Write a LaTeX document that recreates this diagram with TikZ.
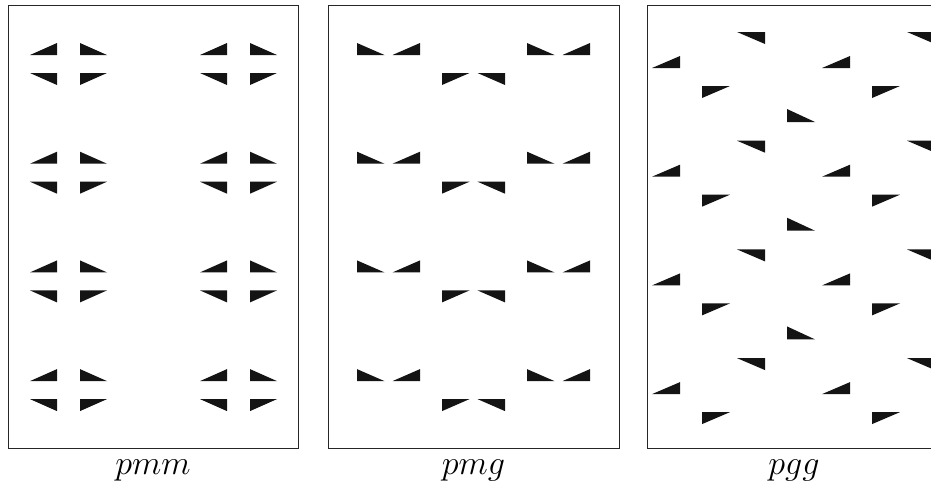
\documentclass[tikz,border=0pt]{standalone}
\begin{document}
\begin{tikzpicture}[x=1pt,y=-1pt,
  frame/.style={draw=black!85,line width=0.9pt},
  tri/.style={fill=black!92,draw=none},
  lbl/.style={anchor=base,inner sep=0pt,font=\fontsize{24.88}{30}\selectfont}]
\clip (0,0) rectangle (931,485);
\useasboundingbox (0,0) rectangle (931,485);
% frames
\draw[frame] (8,5) rectangle (298,448);
\draw[frame] (328,5) rectangle (619,448);
\draw[frame] (647,5) rectangle (937,448);
% pmm
\foreach \cx in {68.5,238.5}{
  \foreach \k in {0,1,2,3}{
    \begin{scope}[shift={(\cx,64+108.7*\k)}]
      \fill[tri] (-38.5,-9) -- (-11.5,-21) -- (-11.5,-9) -- cycle;
      \fill[tri] (11.5,-21) -- (11.5,-9) -- (38.5,-9) -- cycle;
      \fill[tri] (-38.5,9) -- (-11.5,9) -- (-11.5,21) -- cycle;
      \fill[tri] (11.5,9) -- (38.5,9) -- (11.5,21) -- cycle;
    \end{scope}
  }
}
% pmg
\foreach \k in {0,1,2,3}{
  \foreach \cx in {388.5,558.5}{
    \begin{scope}[shift={(\cx,64+108.7*\k)}]
      \fill[tri] (-31.5,-21) -- (-31.5,-9) -- (-4,-9) -- cycle;
      \fill[tri] (4,-9) -- (31.5,-21) -- (31.5,-9) -- cycle;
    \end{scope}
  }
  \begin{scope}[shift={(473.5,64+108.7*\k)}]
    \fill[tri] (-31.5,9) -- (-4,9) -- (-31.5,21) -- cycle;
    \fill[tri] (4,9) -- (31.5,9) -- (31.5,21) -- cycle;
  \end{scope}
}
% pgg
\foreach \k in {0,1,2,3}{
  \foreach \dx in {0,170}{
    \begin{scope}[shift={(\dx,108.7*\k)}]
      \fill[tri] (737,32) -- (765,32) -- (765,44) -- cycle;
      \fill[tri] (652,68) -- (680,56) -- (680,68) -- cycle;
      \fill[tri] (702,86) -- (730,86) -- (702,98) -- cycle;
    \end{scope}
  }
}
\foreach \k in {0,1,2}{
  \fill[tri] (787,109+108.7*\k) -- (787,122+108.7*\k) -- (815,122+108.7*\k) -- cycle;
}
% labels
\node[lbl] (lpmm) at (153,474) {\scalebox{1.37}{$pmm$}};
\node[lbl] (lpmg) at (473.5,474) {\scalebox{1.37}{$pmg$}};
\node[lbl] (lpgg) at (794,474) {\scalebox{1.37}{$pgg$}};
\end{tikzpicture}
\end{document}
